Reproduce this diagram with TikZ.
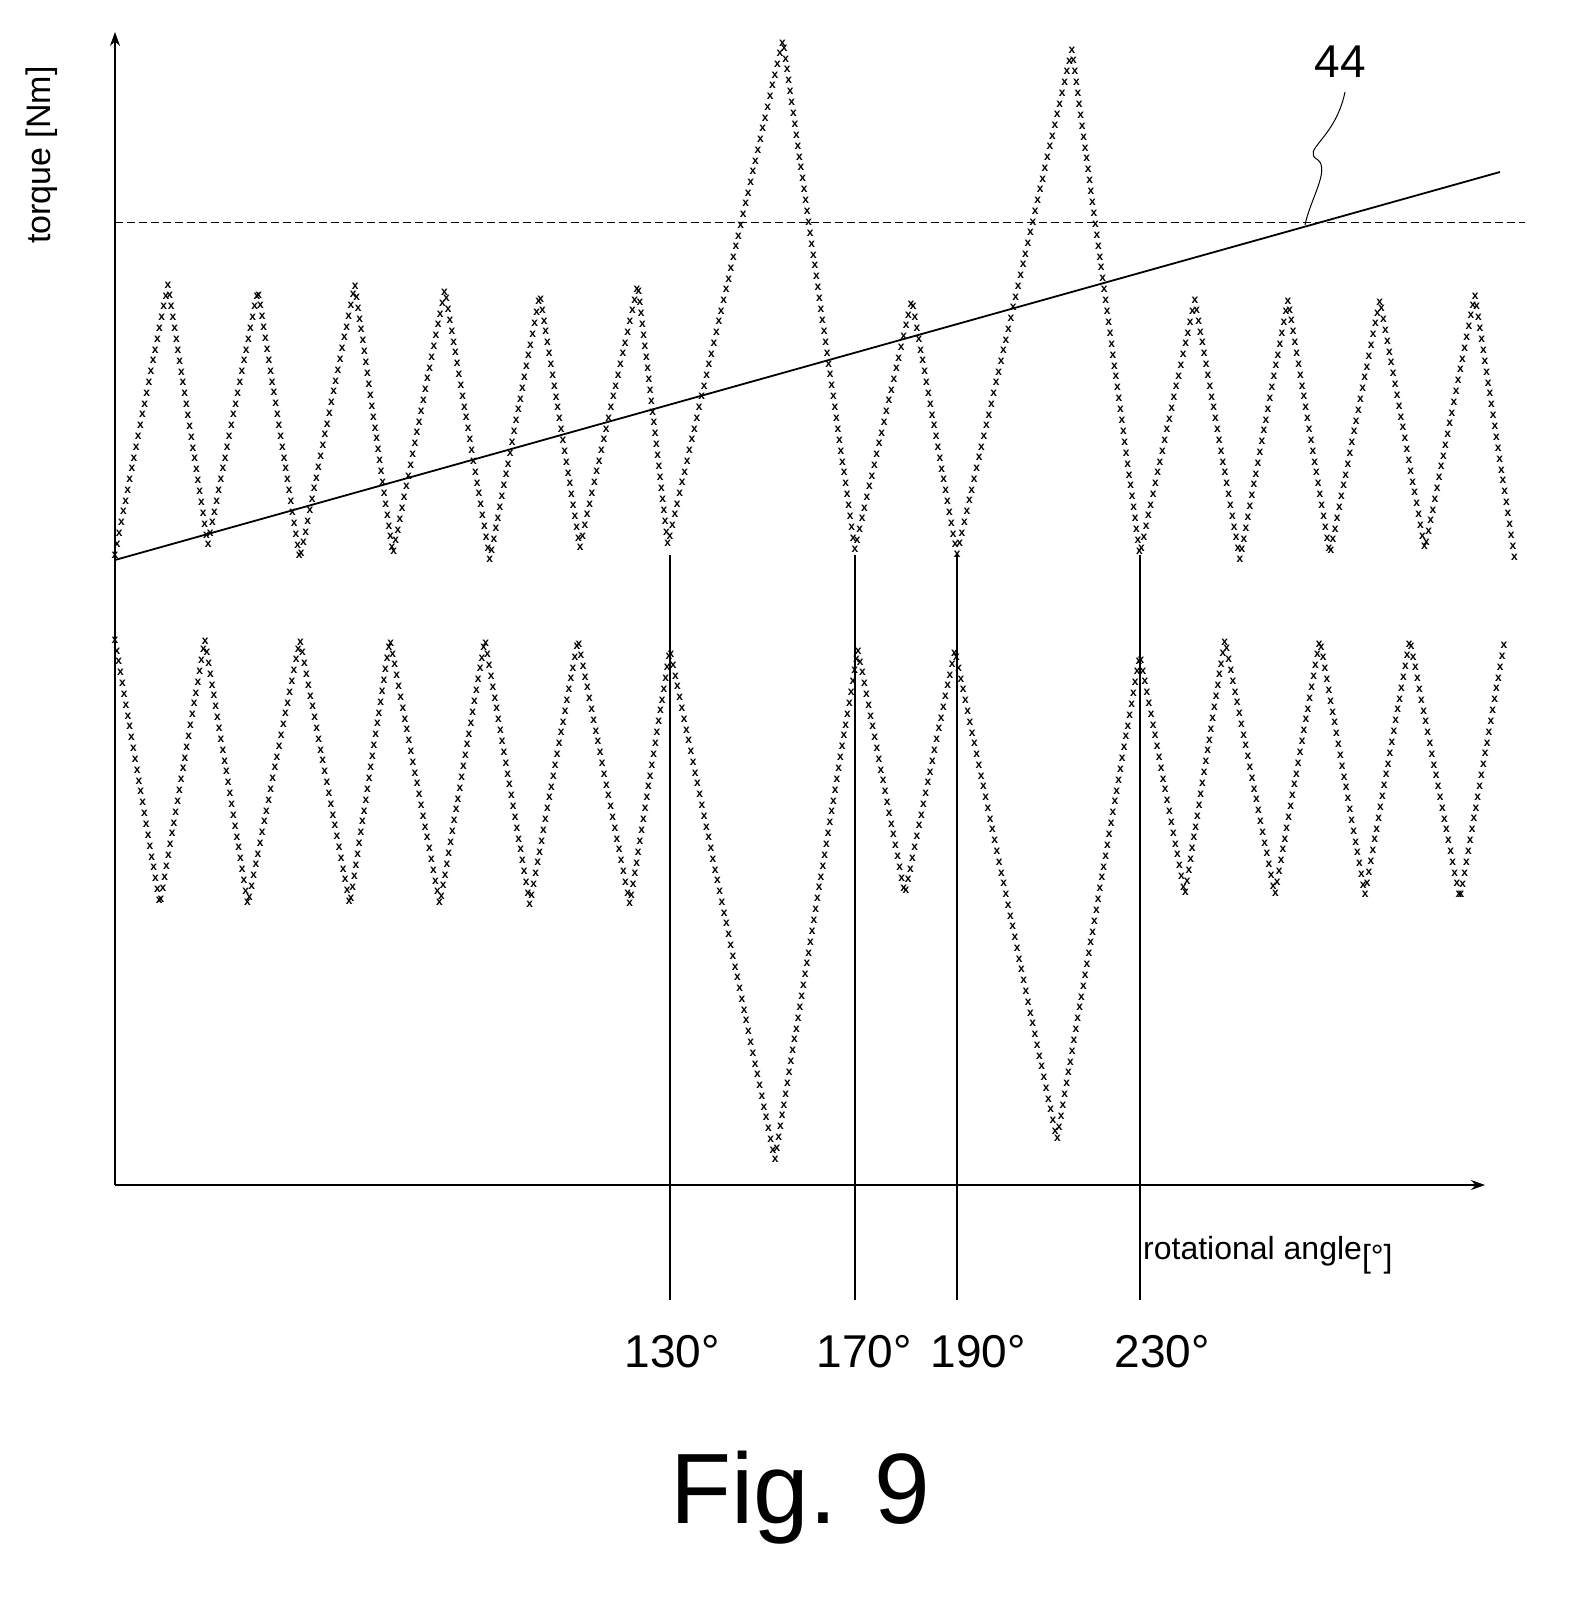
\documentclass[tikz,border=0pt]{standalone}
\usepackage{fontspec}
\setmainfont{Liberation Sans}
\usetikzlibrary{decorations.markings,arrows.meta}
\begin{document}
\begin{tikzpicture}[x=1pt,y=-1pt,
  ax/.style={line width=1.8pt,-{Stealth[length=14pt,width=10pt]}},
  wave/.style={draw=none,postaction={decorate},decoration={markings,mark=between positions 0 and 1 step 11pt with {\node[font=\fontsize{12}{12}\selectfont\bfseries,inner sep=0]{x};}}},
  vline/.style={line width=1.2pt},
  lbl/.style={font=\fontsize{46}{48}\selectfont,inner sep=0}]
\useasboundingbox (0,0) rectangle (1581,1608);
\coordinate (o) at (115,1185);
\coordinate (yt) at (115,32);
\coordinate (xr) at (1485,1185);
\draw[ax] (o) -- (yt);
\draw[ax] (o) -- (xr);
\draw[dashed,line width=1pt,dash pattern=on 8pt off 4pt] (115,222) -- (1525,222);
\draw[line width=1.8pt] (115,560) -- (1500,172);
\node[lbl] (n44) at (1340,62) {44};
\draw[line width=1pt] (1345,92) .. controls (1335,140) and (1300,150) .. (1318,160) .. controls (1330,170) and (1310,200) .. (1305,225);
\path[wave] (115,555) -- (168,285) -- (208,545) -- (258,290) -- (300,560) -- (355,285) -- (393,555) -- (445,290) -- (490,560) -- (540,295) -- (580,548) -- (638,285) -- (668,545) -- (783,40) -- (855,550) -- (912,300) -- (957,555) -- (1072,50) -- (1140,555) -- (1195,300) -- (1240,560) -- (1288,300) -- (1330,555) -- (1380,300) -- (1425,550) -- (1475,295) -- (1515,560);
\path[wave] (115,640) -- (160,905) -- (205,640) -- (248,905) -- (300,640) -- (350,905) -- (390,640) -- (440,905) -- (485,640) -- (530,905) -- (578,640) -- (630,905) -- (670,650) -- (775,1160) -- (858,650) -- (905,895) -- (955,650) -- (1057,1140) -- (1140,655) -- (1185,895) -- (1225,640) -- (1275,895) -- (1320,640) -- (1365,895) -- (1410,640) -- (1460,900) -- (1505,640);
\foreach \x in {670,855,957,1140} \draw[vline] (\x,555) -- (\x,1300);
\node[lbl] (a1) at (672,1352) {130°};
\node[lbl] (a2) at (864,1352) {170°};
\node[lbl] (a3) at (978,1352) {190°};
\node[lbl] (a4) at (1162,1352) {230°};
\node[lbl,anchor=west,font=\fontsize{32}{34}\selectfont] (xl) at (1143,1255) {rotational angle\raisebox{-8pt}{[°]}};
\node[lbl,rotate=90,font=\fontsize{34}{36}\selectfont] (yl) at (42,155) {torque [Nm]};
\node[lbl,font=\fontsize{100}{102}\selectfont] (fig) at (800,1498) {Fig. 9};
\end{tikzpicture}
\end{document}
